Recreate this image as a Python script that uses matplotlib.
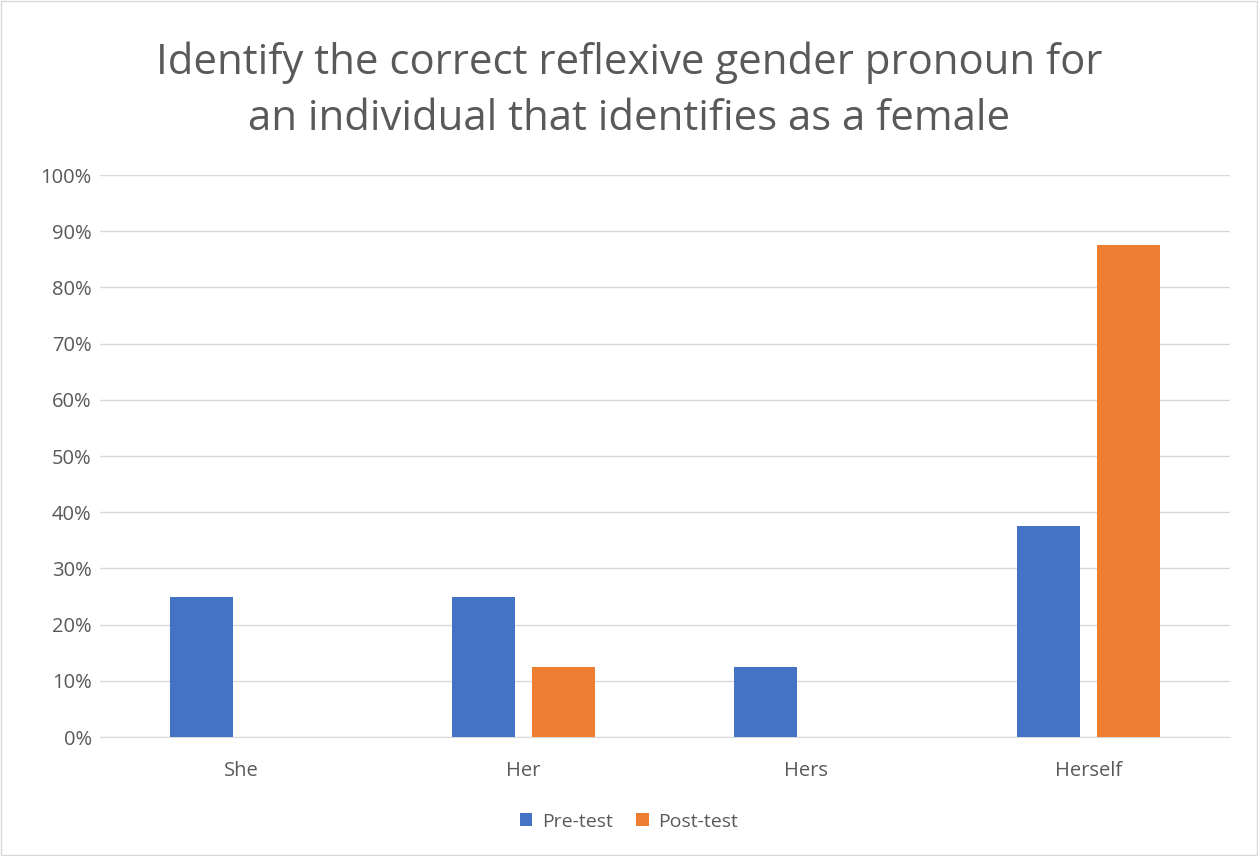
import matplotlib
matplotlib.use("Agg")
import matplotlib.pyplot as plt
import matplotlib.ticker as mticker
import numpy as np

plt.rcParams['font.family'] = ['Open Sans', 'DejaVu Sans']

categories = ["She", "Her", "Hers", "Herself"]
pre_test = [25, 25, 12.5, 37.5]
post_test = [0, 12.5, 0, 87.5]

fig = plt.figure(figsize=(12.58, 8.56), dpi=100)
ax = fig.add_axes([0.0795, 0.139, 0.898, 0.6565])

x = np.arange(len(categories))
w = 0.223
ax.bar(x - 0.142, pre_test, w, color="#4472C4", label="Pre-test", zorder=3)
ax.bar(x + 0.142, post_test, w, color="#ED7D31", label="Post-test", zorder=3)

ax.set_xlim(-0.5, 3.5)
ax.set_ylim(0, 100)
ax.set_yticks(range(0, 101, 10))
ax.yaxis.set_major_formatter(mticker.FuncFormatter(lambda v, p: f"{int(v)}%"))
ax.set_xticks(x)
ax.set_xticklabels(categories)
ax.tick_params(axis="both", length=0, labelsize=14.5, colors="#595959")
ax.tick_params(axis="y", pad=6)
ax.tick_params(axis="x", pad=17)
ax.grid(axis="y", color="#D9D9D9", linewidth=1, zorder=0)
for s in ["top", "right", "left"]:
    ax.spines[s].set_visible(False)
ax.spines["bottom"].set_color("#D9D9D9")

fig.text(0.5, 0.894, "Identify the correct reflexive gender pronoun for\nan individual that identifies as a female",
         ha="center", va="center", fontsize=30.2, color="#595959", linespacing=1.45)

fig.legend(loc="center", bbox_to_anchor=(0.5, 0.04), ncol=2, frameon=False,
           fontsize=14, labelcolor="#595959", handlelength=0.65, handleheight=0.65,
           columnspacing=1.2, handletextpad=0.5)

fig.patches.append(plt.Rectangle((0.001, 0.001), 0.998, 0.998, transform=fig.transFigure,
                                 fill=False, edgecolor="#D9D9D9", linewidth=1))

fig.savefig("out.png", dpi=100)
